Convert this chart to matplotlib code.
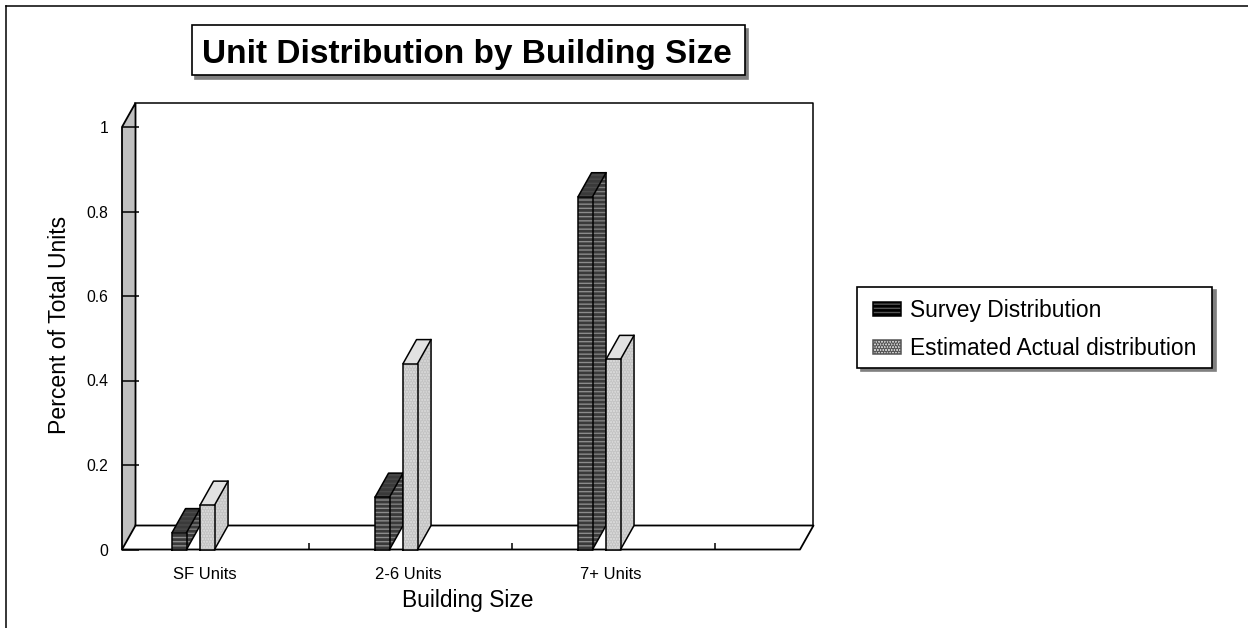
import numpy as np
import matplotlib
matplotlib.use("Agg")
import matplotlib.pyplot as plt
from matplotlib.patches import Rectangle, Patch

plt.rcParams['font.family'] = ['Liberation Sans', 'DejaVu Sans']
plt.rcParams['hatch.linewidth'] = 2.0

### data ###
categories = ["SF Units", "2-6 Units", "7+ Units"]
survey = [0.04, 0.124, 0.835]
estimated = [0.105, 0.44, 0.45]
yticks = [0, 0.2, 0.4, 0.6, 0.8, 1]
ytick_labels = ["0", "0.2", "0.4", "0.6", "0.8", "1"]

W, H = 1248, 628
fig = plt.figure(figsize=(W / 100, H / 100), dpi=100, facecolor="white")

def px_rect(x0, y0, x1, y1):
    # pixel box (from top left) to figure fractions
    return [x0 / W, 1 - y1 / H, (x1 - x0) / W, (y1 - y0) / H]

def shadow_box(x0, y0, x1, y1, off=3.5):
    # white box with a grey drop shadow, used for title and legend
    for o, fc, ec, z in [(off, "#808080", "#808080", 5), (0, "white", "black", 6)]:
        fig.add_artist(Rectangle(((x0 + o) / W, 1 - (y1 + o) / H), (x1 - x0) / W, (y1 - y0) / H,
                                 transform=fig.transFigure, facecolor=fc, edgecolor=ec, lw=1.2, zorder=z))

# outer frame, only left and top show
fig.add_artist(plt.Line2D([6 / W, 6 / W], [0, 1 - 5.5 / H], color="black", lw=1.1))
fig.add_artist(plt.Line2D([6 / W, 1], [1 - 5.5 / H, 1 - 5.5 / H], color="black", lw=1.1))

ax = fig.add_axes(px_rect(122, 127, 800, 549.5))
ax.set_xlim(-0.35, 2.99)
ax.set_ylim(0, 1)
ax.patch.set_visible(False)
for s in ax.spines.values():
    s.set_visible(False)

# depth of the fake 3d in data units
dx = 13.5 / 203
dy = 24 / 422.5
bw = 14.5 / 203
xleft, xright = ax.get_xlim()

def box3d(x, h, front, top, side, hatch_col, hatch, zorder):
    # side and top faces first, then the front
    ax.fill([x + bw, x + bw + dx, x + bw + dx, x + bw], [0, dy, h + dy, h],
            facecolor=side, edgecolor=hatch_col, hatch=hatch, lw=0, zorder=zorder, clip_on=False)
    ax.fill([x, x + dx, x + bw + dx, x + bw], [h, h + dy, h + dy, h],
            facecolor=top, edgecolor=hatch_col, hatch=hatch if top == "#4a4a4a" else None,
            lw=0, zorder=zorder, clip_on=False)
    ax.bar(x, h, bw, align="edge", color=front, edgecolor=hatch_col, hatch=hatch, lw=0,
           zorder=zorder, clip_on=False)
    # outlines
    ax.plot([x, x, x + bw, x + bw, x], [0, h, h, 0, 0], color="black", lw=1.1, zorder=zorder, clip_on=False)
    ax.plot([x, x + dx, x + bw + dx, x + bw], [h, h + dy, h + dy, h], color="black", lw=1.1, zorder=zorder, clip_on=False)
    ax.plot([x + bw + dx, x + bw + dx, x + bw], [h + dy, dy, 0], color="black", lw=1.1, zorder=zorder, clip_on=False)

# walls and floor
ax.fill([xleft, xleft + dx, xleft + dx, xleft], [0, dy, 1 + dy, 1], facecolor="#c0c0c0", edgecolor="black", lw=1.3, zorder=1, clip_on=False)
ax.plot([xleft + dx, xright + dx, xright + dx], [1 + dy, 1 + dy, dy], color="black", lw=1.1, zorder=1, clip_on=False)
ax.plot([xleft, xright, xright + dx, xleft + dx], [0, 0, dy, dy], color="black", lw=1.3, zorder=1, clip_on=False)

for i in range(len(categories)):
    box3d(i - 21 / 203, survey[i], "#8c8c8c", "#4a4a4a", "#808080", "#3a3a3a", "----", 3 + i)
    box3d(i + 7 / 203, estimated[i], "#dcdcdc", "#e2e2e2", "#d8d8d8", "#c4c4c4", "......", 3.5 + i)

# y axis, ticks run across the side wall
ax.set_yticks(yticks, ytick_labels, fontsize=11.3)
ax.tick_params(axis="y", direction="in", length=12, width=1.1, pad=10, color="black", left=True)
# x axis, labels and tick marks sit at different places
ax.set_xticks(np.arange(len(categories)) + 0.06, categories, fontsize=12)
ax.tick_params(axis="x", which="major", length=0, pad=12.5)
ax.set_xticks(np.arange(len(categories)) + 0.57, minor=True)
ax.tick_params(axis="x", which="minor", direction="in", length=5, width=1.1, color="black")

fig.text(467.5 / W, 1 - 600.5 / H, "Building Size", fontsize=16.4, ha="center", va="center")
fig.text(59 / W, 1 - 325 / H, "Percent of Total Units", fontsize=16.6, rotation=90, ha="center", va="center")

# title box
shadow_box(191.5, 25, 744.5, 75)
fig.text(467 / W, 1 - 63 / H, "Unit Distribution by Building Size", fontsize=24.05, fontweight="bold",
         ha="center", va="baseline", zorder=7)

# legend box is drawn by hand, the legend frame cannot be squat and wide at once
shadow_box(857, 287, 1212, 368)
handles = [Patch(facecolor="#555555", edgecolor="black", hatch="----", lw=1.1),
           Patch(facecolor="#dedede", edgecolor="#555555", hatch="......", lw=1.1)]
leg = fig.legend(handles, ["Survey Distribution", "Estimated Actual distribution"],
                 loc="center", bbox_to_anchor=(1034.5 / W, 1 - 329.5 / H), fontsize=16.4,
                 frameon=False, handlelength=1.27, handleheight=0.55, handletextpad=0.38,
                 labelspacing=0.68, borderpad=0, borderaxespad=0)
leg.set_zorder(7)

fig.savefig("out.png", dpi=100)
